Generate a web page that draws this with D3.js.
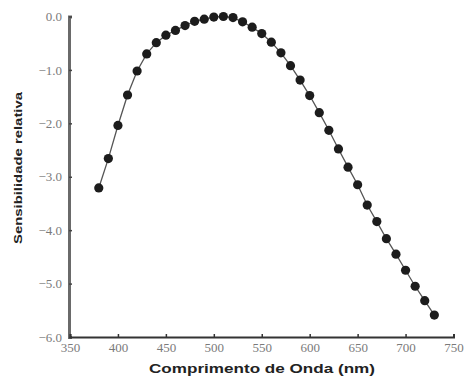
<!DOCTYPE html>
<html><head><meta charset="utf-8">
<script src="https://cdn.jsdelivr.net/npm/d3@7"></script>
<style>body{margin:0;background:#fff}</style>
</head><body>
<svg id="c" width="467" height="377"></svg>
<script>
const wavelengths = [380,390,400,410,420,430,440,450,460,470,480,490,500,510,520,530,540,550,560,570,580,590,600,610,620,630,640,650,660,670,680,690,700,710,720,730];
const sensitivity = [-3.21,-2.66,-2.04,-1.47,-1.02,-0.70,-0.49,-0.35,-0.26,-0.17,-0.09,-0.05,-0.01,0.0,-0.02,-0.10,-0.20,-0.32,-0.48,-0.68,-0.92,-1.19,-1.48,-1.80,-2.13,-2.48,-2.82,-3.15,-3.53,-3.84,-4.16,-4.45,-4.75,-5.05,-5.32,-5.59];
const xTicks = [350,400,450,500,550,600,650,700,750];
const yTicks = [0,-1,-2,-3,-4,-5,-6];
const xTitle = "Comprimento de Onda (nm)";
const yTitle = "Sensibilidade relativa";

const svg = d3.select("#c");
const x = d3.scaleLinear().domain([350,750]).range([70,453.5]);
const y = d3.scaleLinear().domain([0,-6]).range([16.5,337]);

// y axis
const ya = svg.append("g").attr("transform","translate(69,0)")
  .call(d3.axisLeft(y).tickValues(yTicks).tickSize(-3).tickPadding(7)
    .tickFormat(d => d === 0 ? "0.0" : "\u2212" + Math.abs(d).toFixed(1)));
ya.select(".domain").attr("stroke","#6a6a6a").attr("stroke-width",3);
ya.selectAll(".tick line").attr("stroke","#444").attr("stroke-width",1.5);
ya.selectAll("text").attr("font-family","Liberation Serif, serif").attr("font-size",13).attr("fill","#7a7a7a");

// x axis
const xa = svg.append("g").attr("transform","translate(0,337)")
  .call(d3.axisBottom(x).tickValues(xTicks).tickSize(-3).tickPadding(6).tickFormat(d3.format("d")));
xa.select(".domain").attr("stroke","#333").attr("stroke-width",2);
xa.selectAll(".tick line").attr("stroke","#333").attr("stroke-width",1.5);
xa.selectAll("text").attr("font-family","Liberation Serif, serif").attr("font-size",13).attr("fill","#7a7a7a");

// line
const data = wavelengths.map((w,i)=>({w, v: sensitivity[i]}));
svg.append("path").datum(data)
  .attr("fill","none").attr("stroke","#555").attr("stroke-width",1.3)
  .attr("d", d3.line().x(d=>x(d.w)).y(d=>y(d.v)));
svg.append("g").selectAll("circle").data(data).join("circle")
  .attr("cx",d=>x(d.w)).attr("cy",d=>y(d.v)).attr("r",4.6).attr("fill","#1c1c1c");

// titles
svg.append("text").attr("x",262).attr("y",373).attr("text-anchor","middle")
  .attr("font-family","Liberation Sans, Arial, sans-serif").attr("font-weight","bold").attr("font-size",12.5)
  .attr("textLength",226).attr("lengthAdjust","spacingAndGlyphs")
  .attr("fill","#222").text(xTitle);
svg.append("text").attr("transform","translate(22,168) rotate(-90)").attr("text-anchor","middle")
  .attr("font-family","Liberation Sans, Arial, sans-serif").attr("font-weight","bold").attr("font-size",11.5)
  .attr("textLength",152).attr("lengthAdjust","spacingAndGlyphs")
  .attr("fill","#222").text(yTitle);
</script>
</body></html>
